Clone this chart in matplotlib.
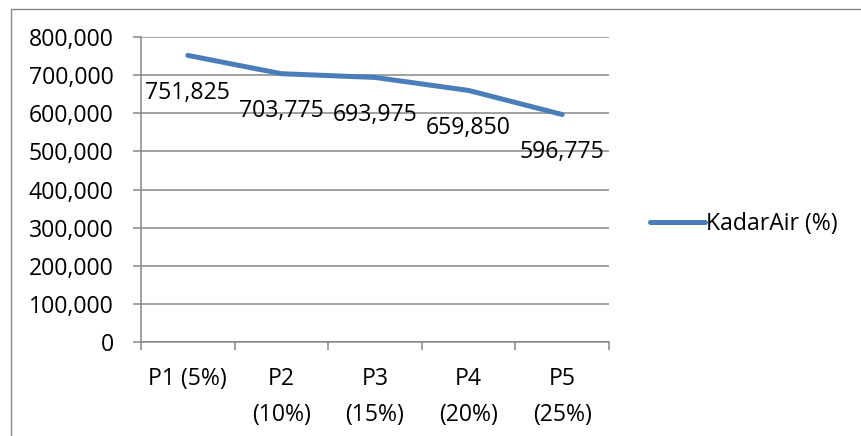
import matplotlib
matplotlib.use("Agg")
import matplotlib.pyplot as plt
from matplotlib.patches import Rectangle
from matplotlib.ticker import FuncFormatter, MultipleLocator, FixedLocator

plt.rcParams['font.family'] = ['Open Sans', 'DejaVu Sans']

categories = ['P1 (5%)', 'P2\n(10%)', 'P3\n(15%)', 'P4\n(20%)', 'P5\n(25%)']
kadar_air = [751825, 703775, 693975, 659850, 596775]
series_name = 'KadarAir (%)'

line_color = '#4A7EBB'
grid_color = '#878787'
font_size = 16.6

fig = plt.figure(figsize=(8.62, 4.36), dpi=100)
ax = fig.add_axes([0.1636, 0.2156, 0.7065 - 0.1636, 0.9151 - 0.2156])

# outer chart frame, clipped by the figure edges on the right and bottom
fig.patches.append(Rectangle((0.0128, -0.05), 1.2, 0.05 + 1 - 9 / 436,
                             transform=fig.transFigure, fill=False,
                             edgecolor=grid_color, linewidth=1.0))

x = list(range(len(categories)))
ax.plot(x, kadar_air, color=line_color, linewidth=3.6,
        solid_capstyle='round', solid_joinstyle='round', label=series_name)

for xi, v in zip(x, kadar_air):
    ax.annotate(f'{v:,}', (xi, v), xytext=(0, -27), textcoords='offset points',
                ha='center', va='center', fontsize=font_size, color='black')

ax.set_xlim(-0.5, len(categories) - 0.5)
ax.set_ylim(0, 800000)
ax.yaxis.set_major_locator(MultipleLocator(100000))
ax.yaxis.set_major_formatter(FuncFormatter(lambda v, _: f'{v:,.0f}'))
ax.grid(axis='y', color=grid_color, linewidth=1.1)
ax.set_axisbelow(True)

# category ticks sit between the categories, labels centred on them
ax.xaxis.set_major_locator(FixedLocator([i - 0.5 for i in range(len(categories) + 1)]))
ax.xaxis.set_major_formatter(FuncFormatter(lambda v, _: ''))
ax.xaxis.set_minor_locator(FixedLocator(x))
ax.set_xticklabels(categories, minor=True)
ax.tick_params(axis='x', which='minor', length=0, pad=18, labelsize=font_size)
ax.tick_params(axis='x', which='major', length=5.8, width=1.1, color=grid_color)
ax.tick_params(axis='y', length=5.8, width=1.1, color=grid_color, pad=14,
               labelsize=font_size)
for lbl in ax.get_xticklabels(minor=True):
    lbl.set_verticalalignment('top')
    lbl.set_linespacing(1.65)

for side in ['top', 'right']:
    ax.spines[side].set_visible(False)
for side in ['left', 'bottom']:
    ax.spines[side].set_color(grid_color)
    ax.spines[side].set_linewidth(1.1)

fig.legend(loc='center left', bbox_to_anchor=(0.743, 1 - 224 / 436),
           frameon=False, fontsize=font_size, handlelength=2.4,
           handletextpad=0.05, borderaxespad=0)

fig.savefig('out.png', dpi=100)
